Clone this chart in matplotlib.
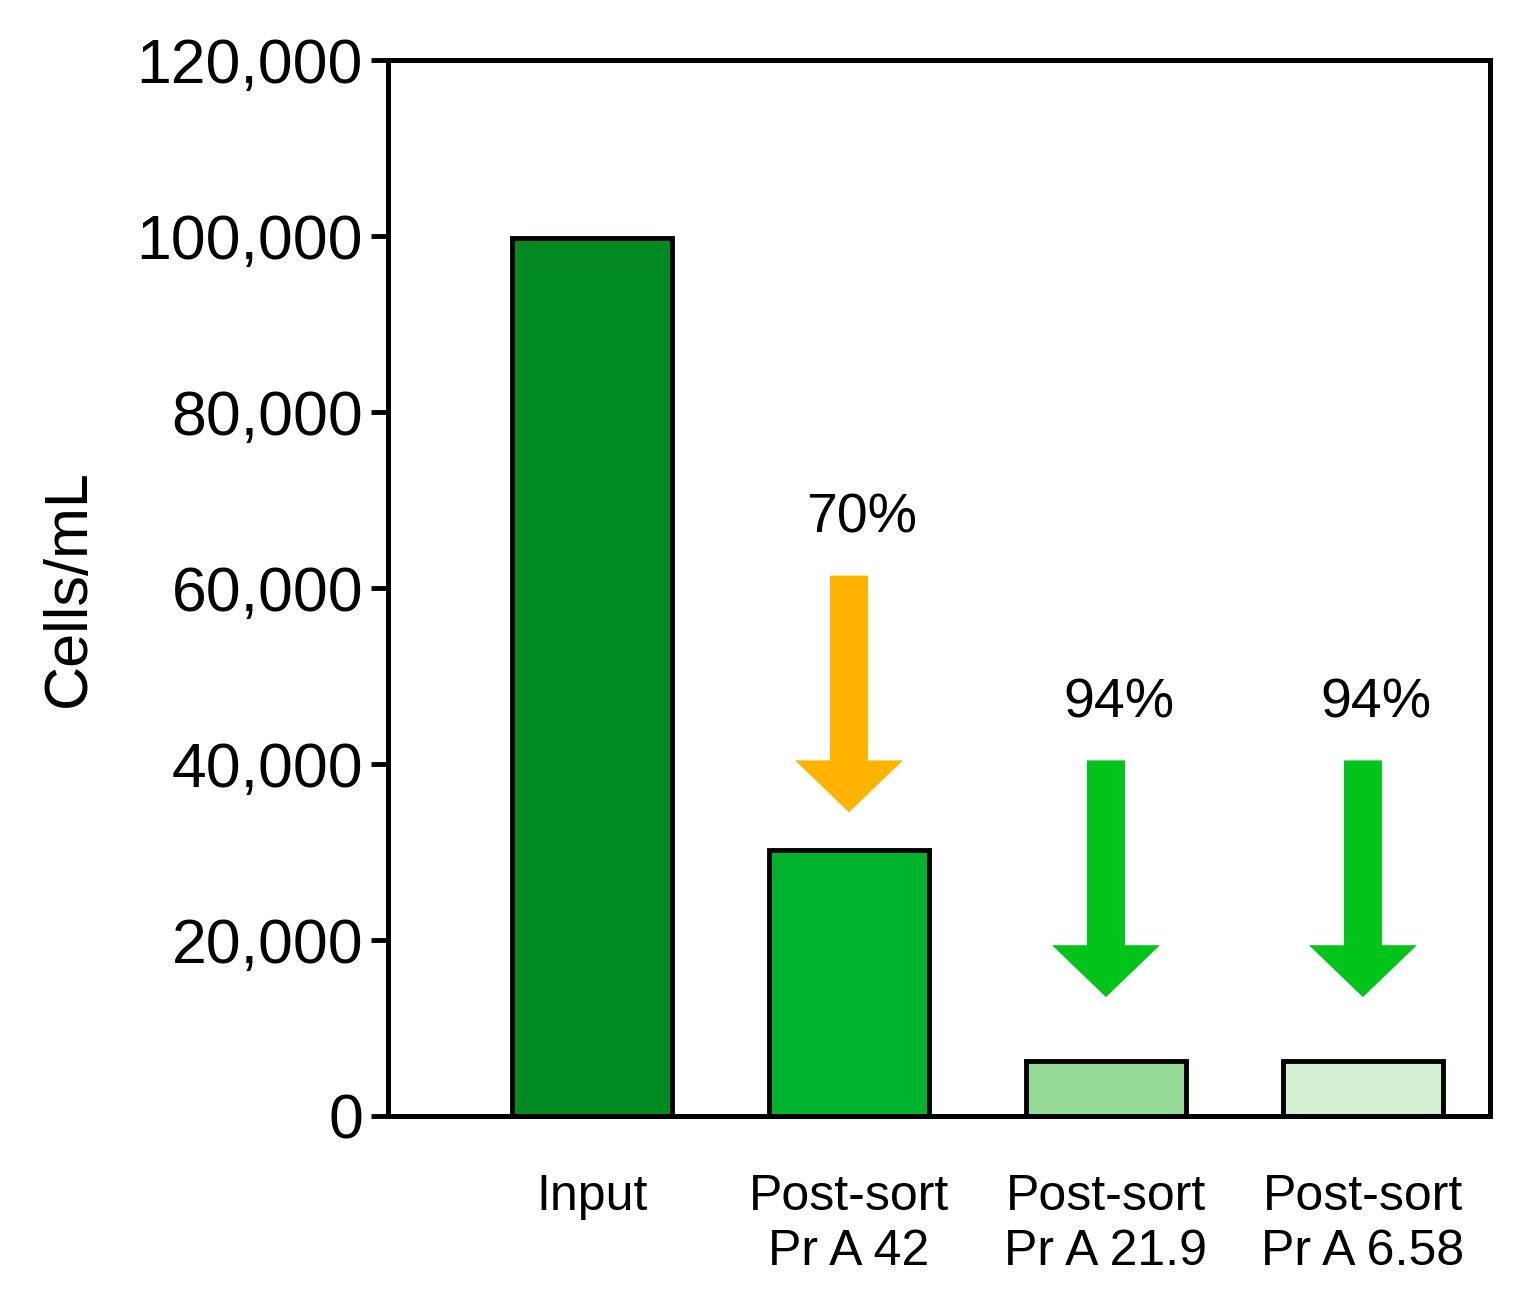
import matplotlib
matplotlib.use("Agg")
import matplotlib.pyplot as plt

plt.rcParams['font.family'] = ['Liberation Sans', 'DejaVu Sans']

categories = ["Input", "Post-sort\nPr A 42", "Post-sort\nPr A 21.9", "Post-sort\nPr A 6.58"]
values = [99800, 30200, 6300, 6300]
bar_colors = ["#008a20", "#00b32c", "#95d996", "#d4f0d4"]
arrow_labels = [None, "70%", "94%", "94%"]
arrow_tops = [None, 61400, 40400, 40400]
arrow_tips = [None, 34500, 13500, 13500]
arrow_colors = [None, "#fdb300", "#00c41a", "#00c41a"]

fig = plt.figure(figsize=(15.17, 13.02), dpi=100)
ax = fig.add_axes([0.2558, 0.1429, 0.7263, 0.8111])
x = [0, 1, 2, 3]
ax.bar(x, values, width=0.62, color=bar_colors, edgecolor="black", linewidth=3.5)
for i in x:
    if arrow_labels[i] is None:
        continue
    ax.arrow(i, arrow_tops[i], 0, arrow_tips[i] - arrow_tops[i], width=0.148,
             head_width=0.42, head_length=5900, length_includes_head=True,
             color=arrow_colors[i], linewidth=0)
    ax.text(i + 0.05, arrow_tops[i] + 3500, arrow_labels[i], ha="center", va="bottom", fontsize=40)

ax.set_xlim(-0.794, 3.494)
ax.set_ylim(0, 120000)
ax.set_yticks(range(0, 120001, 20000))
ax.set_yticklabels([f"{v:,}" for v in range(0, 120001, 20000)], fontsize=45)
ax.set_xticks(x)
ax.set_xticklabels(categories, fontsize=36, linespacing=1.25)
ax.tick_params(axis="x", length=0, pad=42)
ax.tick_params(axis="y", length=12, width=3.5, pad=6)
for s in ax.spines.values():
    s.set_linewidth(3.6)
ax.set_ylabel("Cells/mL", fontsize=44, labelpad=28)
fig.savefig("out.png", dpi=100)
